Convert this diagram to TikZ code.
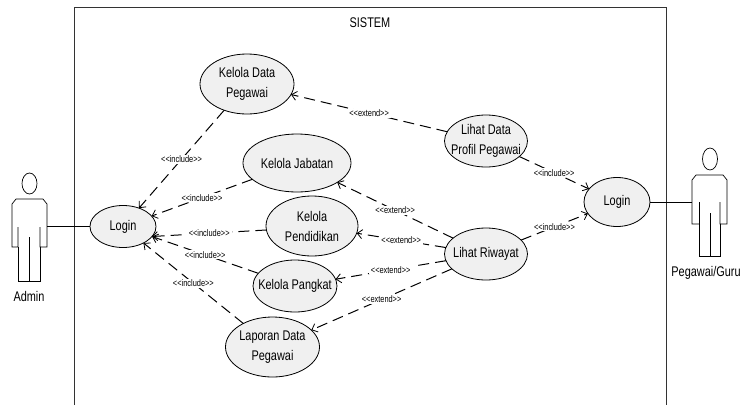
\documentclass[tikz,border=0pt]{standalone}
\usepackage{fontspec}
\newfontfamily\nfont[FakeStretch=0.78]{Liberation Sans}
\usetikzlibrary{shapes.geometric,arrows.meta}
\definecolor{ucfill}{HTML}{F0F0F0}
\definecolor{boxline}{HTML}{333333}
\newcommand{\tcl}[1]{\makebox[0pt][c]{#1}}
\tikzset{
  uc/.style={ellipse,draw=black,fill=ucfill,line width=0.8pt,inner sep=0pt,outer sep=0pt,align=center,
    font=\nfont\fontsize{14}{20}\selectfont},
  rel/.style={draw=black,line width=1pt,dash pattern=on 11pt off 6pt,-{Straight Barb[length=5pt,width=9pt,line width=0.8pt]}},
  lab/.style={fill=white,inner xsep=2pt,inner ysep=1pt,font=\nfont\fontsize{9.5}{11}\selectfont},
  txt/.style={font=\nfont\fontsize{14}{16}\selectfont,inner sep=0pt},
  stick/.style={draw=black,line width=0.7pt},
  assoc/.style={draw=black,line width=1pt}
}
\begin{document}
\begin{tikzpicture}[x=1pt,y=-1pt]
\useasboundingbox (0,0) rectangle (745,405);
\draw[draw=boxline,line width=0.9pt] (74,405) -- (74,7) -- (666,7) -- (666,405);
\node[txt] (sistem) at (370,23) {SISTEM};
% use cases
\node[uc,minimum width=94pt,minimum height=60pt] (data) at (247,84) {\tcl{Kelola Data}\\\tcl{Pegawai}};
\node[uc,minimum width=108pt,minimum height=58pt] (jab) at (297,163) {\tcl{Kelola Jabatan}};
\node[uc,minimum width=92pt,minimum height=60pt] (pend) at (312,226) {\tcl{Kelola}\\\tcl{Pendidikan}};
\node[uc,minimum width=84pt,minimum height=52pt] (pang) at (295,286) {\tcl{Kelola Pangkat}};
\node[uc,minimum width=94pt,minimum height=60pt] (lap) at (272.5,347) {\tcl{Laporan Data}\\\tcl{Pegawai}};
\node[uc,minimum width=66pt,minimum height=42pt] (loginA) at (123,226.5) {\tcl{Login}};
\node[uc,minimum width=83pt,minimum height=52pt] (lihat) at (486,141) {\tcl{Lihat Data}\\\tcl{Profil Pegawai}};
\node[uc,minimum width=83pt,minimum height=52pt] (riw) at (486,254) {\tcl{Lihat Riwayat}};
\node[uc,minimum width=66pt,minimum height=49pt] (loginB) at (617,202) {\tcl{Login}};
% actor Admin
\draw[stick] (29.5,183.5) ellipse (7.5pt and 10.5pt);
\draw[stick] (18,227) -- (18,247) -- (12,247) -- (12,204) -- (16,199) -- (43,199) -- (47,204) -- (47,247) -- (40,247) -- (40,227);
\draw[stick] (18,247) -- (18,281) -- (40,281) -- (40,247);
\draw[stick] (29,237) -- (29,281);
\coordinate (adminc) at (47,226.5);
\node[txt] (admin) at (29,296) {Admin};
% actor Pegawai/Guru
\draw[stick] (710,159) ellipse (7.5pt and 11pt);
\draw[stick] (699.5,202) -- (699.5,224) -- (692,224) -- (692,180) -- (696,175) -- (723,175) -- (727,180) -- (727,224) -- (720,224) -- (720,202);
\draw[stick] (699.5,224) -- (699.5,256) -- (720,256) -- (720,224);
\draw[stick] (710,213) -- (710,256);
\coordinate (guruc) at (692,202);
\node[txt] (guru) at (706,273) {Pegawai/Guru};
% associations
\draw[assoc] (adminc) -- (loginA);
\draw[assoc] (guruc) -- (loginB);
% include
\draw[rel] (data) -- (loginA) node[lab,pos=0.5] {<<include>>};
\draw[rel] (jab) -- (loginA) node[lab,pos=0.5] {<<include>>};
\draw[rel] (pend.185) -- (loginA.-19) node[lab,pos=0.5] {<<include>>};
\draw[rel] (pang) -- (loginA) node[lab,pos=0.5] {<<include>>};
\draw[rel] (lap) -- (loginA) node[lab,pos=0.5] {<<include>>};
\draw[rel] (lihat) -- (loginB) node[lab,pos=0.5] {<<include>>};
\draw[rel] (riw) -- (loginB) node[lab,pos=0.5] {<<include>>};
% extend
\draw[rel] (lihat) -- (data) node[lab,pos=0.5] {<<extend>>};
\draw[rel] (riw) -- (jab) node[lab,pos=0.5] {<<extend>>};
\draw[rel] (riw) -- (pend) node[lab,pos=0.5] {<<extend>>};
\draw[rel] (riw) -- (pang) node[lab,pos=0.5] {<<extend>>};
\draw[rel] (riw) -- (lap) node[lab,pos=0.5] {<<extend>>};
\end{tikzpicture}
\end{document}
